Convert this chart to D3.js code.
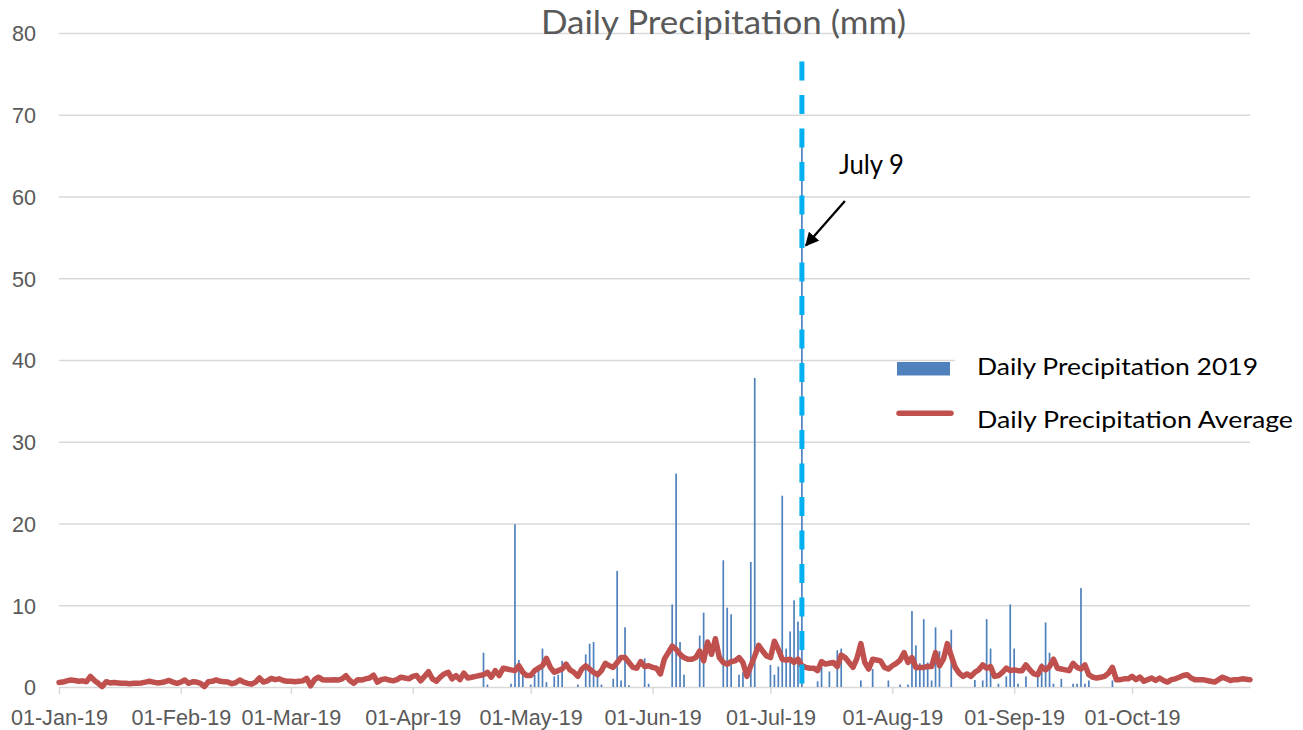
<!DOCTYPE html>
<html>
<head>
<meta charset="utf-8">
<script src="https://cdn.jsdelivr.net/npm/d3@7"></script>
<style>
  html, body { margin: 0; padding: 0; background: #ffffff; }
  svg { display: block; font-family: Lato, "Open Sans", sans-serif; }
</style>
</head>
<body>
<svg id="chart" width="1303" height="730"></svg>
<script>
// ---------------- DATA ----------------
const titleText = "Daily Precipitation (mm)";
const seriesNames = ["Daily Precipitation 2019", "Daily Precipitation Average"];
const startDate = "2019-01-01";
const endDate = "2019-10-31";
const yTicks = [0, 10, 20, 30, 40, 50, 60, 70, 80];
const monthTicks = ["2019-01-01", "2019-02-01", "2019-03-01", "2019-04-01", "2019-05-01",
                    "2019-06-01", "2019-07-01", "2019-08-01", "2019-09-01", "2019-10-01"];

// Daily precipitation 2019 (days with rain only), mm
const rainDates = [
  "2019-04-19","2019-04-20","2019-04-26","2019-04-27","2019-04-28","2019-04-29",
  "2019-05-01","2019-05-02","2019-05-03","2019-05-04","2019-05-05","2019-05-07","2019-05-08","2019-05-09",
  "2019-05-13","2019-05-15","2019-05-16","2019-05-17","2019-05-18","2019-05-19","2019-05-22","2019-05-23",
  "2019-05-24","2019-05-25","2019-05-26","2019-05-30","2019-05-31",
  "2019-06-06","2019-06-07","2019-06-08","2019-06-09","2019-06-13","2019-06-14","2019-06-19","2019-06-20",
  "2019-06-21","2019-06-23","2019-06-24","2019-06-26","2019-06-27",
  "2019-07-01","2019-07-02","2019-07-03","2019-07-04","2019-07-05","2019-07-06","2019-07-07","2019-07-08",
  "2019-07-09","2019-07-13","2019-07-14","2019-07-16","2019-07-18","2019-07-19","2019-07-24","2019-07-27",
  "2019-07-31",
  "2019-08-03","2019-08-05","2019-08-06","2019-08-07","2019-08-08","2019-08-09","2019-08-10","2019-08-11",
  "2019-08-12","2019-08-13","2019-08-16","2019-08-22","2019-08-24","2019-08-25","2019-08-26","2019-08-28",
  "2019-08-30","2019-08-31",
  "2019-09-01","2019-09-02","2019-09-04","2019-09-07","2019-09-08","2019-09-09","2019-09-10","2019-09-11",
  "2019-09-13","2019-09-16","2019-09-17","2019-09-18","2019-09-19","2019-09-20","2019-09-26"
];
const rainMm = [
  4.2, 0.3, 0.4, 19.9, 3.3, 1.5,
  0.3, 1.5, 2.6, 4.7, 0.6, 1.3, 1.5, 3.2,
  0.3, 4.0, 5.3, 5.5, 1.3, 0.3, 1.0, 14.2,
  0.8, 7.3, 0.2, 3.5, 0.4,
  10.1, 26.1, 5.5, 1.5, 6.3, 9.1, 15.5, 9.7,
  8.9, 1.5, 1.8, 15.3, 37.8,
  2.7, 1.5, 2.5, 23.4, 4.7, 6.8, 10.6, 8.0,
  67.5, 0.7, 2.5, 1.9, 4.5, 4.7, 0.8, 2.2,
  0.8,
  0.3, 0.3, 9.3, 5.1, 2.9, 8.3, 3.0, 0.8,
  7.3, 4.4, 7.0, 0.85, 0.8, 8.3, 4.7, 0.4,
  1.3, 10.1,
  4.7, 0.4, 1.3, 1.7, 2.9, 7.9, 4.2, 0.4,
  1.0, 0.4, 0.4, 12.1, 0.4, 0.8, 0.8
];

// Daily precipitation average (long-term), mm, one value per day
const avgJan = [0.55,0.6,0.75,0.85,0.8,0.7,0.75,0.65,1.3,0.8,0.45,0.05,0.65,0.5,0.55,0.5,0.45,0.45,0.4,0.45,0.45,0.5,0.6,0.7,0.6,0.5,0.55,0.65,0.8,0.6,0.45];
const avgFeb = [0.6,0.86,0.45,0.65,0.6,0.45,0.05,0.65,0.7,0.86,0.7,0.65,0.6,0.4,0.55,0.86,0.6,0.45,0.35,0.6,1.1,0.6,0.75,1.05,0.9,1.0,0.8,0.7];
const avgMar = [0.7,0.65,0.7,0.75,1.05,0.15,0.9,1.2,0.9,0.85,0.85,0.9,0.85,1.0,1.38,0.8,0.45,0.9,0.85,1.0,1.1,1.45,0.6,0.9,1.0,0.85,0.75,0.9,1.2,1.1,1.0];
const avgApr = [1.3,1.4,0.75,1.3,1.87,1.0,0.7,1.2,1.6,1.8,1.0,1.4,0.9,1.7,1.1,1.2,1.3,1.4,1.5,1.8,1.2,2.0,1.4,2.3,2.2,2.1,2.0,2.6,1.8,1.4];
const avgMay = [1.4,2.0,2.3,2.6,3.5,2.4,1.8,2.0,2.2,2.8,2.1,1.8,1.3,2.2,2.6,2.2,1.8,1.5,2.0,2.9,2.6,2.4,3.0,3.6,3.6,3.0,2.4,2.3,3.1,2.5,2.6];
const avgJun = [2.4,2.3,1.6,3.4,4.2,5.0,4.6,4.0,3.6,3.4,3.4,3.6,4.4,3.2,5.5,4.0,5.9,3.6,3.0,2.8,3.1,3.2,3.6,3.0,1.3,2.6,3.8,5.1,4.4,3.8];
const avgJul = [3.6,5.6,4.6,3.4,3.3,3.4,3.0,3.4,2.6,2.4,2.3,2.3,2.0,3.1,2.8,2.9,3.0,2.5,3.9,3.6,3.0,2.4,3.5,5.3,3.0,2.2,3.4,3.3,3.2,2.4,2.2];
const avgAug = [2.6,2.9,3.3,4.2,3.0,3.6,2.4,2.4,2.4,2.5,2.5,4.2,2.6,3.4,5.3,3.8,2.4,1.7,1.3,1.6,1.3,1.8,2.1,2.7,2.3,2.5,1.3,1.4,1.8,2.3,2.0];
const avgSep = [2.1,2.0,2.0,2.7,2.1,1.6,1.5,2.5,2.1,2.5,3.4,2.3,2.2,2.1,2.0,2.9,2.4,2.2,2.7,1.5,1.2,1.1,1.2,1.3,1.7,2.4,0.9,0.9,1.0,1.0];
const avgOct = [1.3,0.9,1.2,0.7,0.9,1.1,0.8,1.1,0.8,0.6,0.9,1.0,1.2,1.4,1.5,1.1,0.9,0.9,0.9,0.8,0.7,0.6,0.9,1.2,1.0,0.8,0.9,0.9,1.0,0.95,0.9];

const markerDate = "2019-07-09";
const markerLabel = "July 9";
const markerTopMm = 76.5;

// ---------------- CHART ----------------
const parse = d3.utcParse("%Y-%m-%d");
const avgValues = [].concat(avgJan, avgFeb, avgMar, avgApr, avgMay, avgJun, avgJul, avgAug, avgSep, avgOct);
const d0 = parse(startDate);
const avgData = avgValues.map((v, i) => ({ date: d3.utcDay.offset(d0, i), v }));
const rainData = rainDates.map((d, i) => ({ date: parse(d), v: rainMm[i] }));

const svg = d3.select("#chart");
const plot = { left: 59, right: 1250, top: 33, bottom: 687 };

const x = d3.scaleUtc().domain([parse(startDate), parse(endDate)]).range([plot.left, plot.right]);
const y = d3.scaleLinear().domain([0, 80]).range([plot.bottom, plot.top]);

const gridColor = "#D9D9D9";
const labelColor = "#595959";

// Y axis with gridlines
const yAxis = svg.append("g")
  .attr("transform", `translate(${plot.left},0)`)
  .call(d3.axisLeft(y).tickValues(yTicks).tickSize(-(plot.right - plot.left)).tickPadding(23));
yAxis.select(".domain").remove();
yAxis.selectAll(".tick line").attr("stroke", gridColor).attr("stroke-width", 1.3)
  .filter(d => d === 0).remove();
yAxis.selectAll(".tick text")
  .attr("fill", labelColor).attr("font-size", 21.6).attr("dy", "0.36em");

// X axis
const xAxis = svg.append("g")
  .attr("transform", `translate(0,${plot.bottom})`)
  .call(d3.axisBottom(x).tickValues(monthTicks.map(parse))
    .tickFormat(d3.utcFormat("%d-%b-%y")).tickSize(7).tickSizeOuter(0));
xAxis.select(".domain").attr("stroke", gridColor).attr("stroke-width", 1.5);
xAxis.selectAll(".tick line").attr("stroke", gridColor).attr("stroke-width", 1.5);
xAxis.selectAll(".tick text")
  .attr("fill", labelColor).attr("font-size", 21.6).attr("y", 38).attr("dy", 0);

// Legend background (hides gridline behind legend)
svg.append("rect").attr("x", 955).attr("y", 348).attr("width", 348).attr("height", 88).attr("fill", "#fff");

// Bars
const barW = 1.7;
const barColor = "#4F81BD";
svg.append("g").selectAll("rect").data(rainData).join("rect")
  .attr("x", d => x(d.date) - barW / 2)
  .attr("y", d => y(d.v))
  .attr("width", barW)
  .attr("height", d => y(0) - y(d.v))
  .attr("fill", barColor);

// Average line
const lineColor = "#C0504D";
svg.append("path").datum(avgData)
  .attr("d", d3.line().x(d => x(d.date)).y(d => y(d.v)))
  .attr("fill", "none").attr("stroke", lineColor).attr("stroke-width", 5.5)
  .attr("stroke-linejoin", "round").attr("stroke-linecap", "round");

// Marker dashed line (July 9)
const mx = x(parse(markerDate));
svg.append("line")
  .attr("x1", mx).attr("x2", mx)
  .attr("y1", y(markerTopMm)).attr("y2", y(0))
  .attr("stroke", "#00B0F0").attr("stroke-width", 5)
  .attr("stroke-dasharray", "19,14.5");

// Annotation
svg.append("defs").append("marker")
  .attr("id", "arrowHead").attr("viewBox", "0 0 10 10")
  .attr("refX", 9).attr("refY", 5)
  .attr("markerWidth", 6).attr("markerHeight", 6)
  .attr("markerUnits", "strokeWidth")
  .attr("orient", "auto")
  .append("path").attr("d", "M0,0 L10,5 L0,10 z").attr("fill", "#000");

svg.append("line")
  .attr("x1", mx + 43).attr("y1", y(59.45))
  .attr("x2", mx + 4).attr("y2", y(54.0))
  .attr("stroke", "#000").attr("stroke-width", 2.3)
  .attr("marker-end", "url(#arrowHead)");

svg.append("text")
  .attr("x", mx + 37).attr("y", y(62.75))
  .attr("font-size", 26).attr("fill", "#000")
  .attr("textLength", 65).attr("lengthAdjust", "spacingAndGlyphs")
  .text(markerLabel);

// Title
svg.append("text")
  .attr("x", 723.5).attr("y", 34)
  .attr("text-anchor", "middle")
  .attr("font-size", 33).attr("fill", labelColor)
  .attr("textLength", 365).attr("lengthAdjust", "spacingAndGlyphs")
  .text(titleText);

// Legend
const legend = svg.append("g");
legend.append("rect").attr("x", 897).attr("y", 362).attr("width", 53).attr("height", 13.5).attr("fill", barColor);
legend.append("line").attr("x1", 899).attr("x2", 951).attr("y1", 413.3).attr("y2", 413.3)
  .attr("stroke", lineColor).attr("stroke-width", 5.5).attr("stroke-linecap", "round");
legend.append("text").attr("x", 977).attr("y", 375).attr("font-size", 23.5).attr("fill", "#000")
  .attr("textLength", 281).attr("lengthAdjust", "spacingAndGlyphs").text(seriesNames[0]);
legend.append("text").attr("x", 977).attr("y", 428).attr("font-size", 23.5).attr("fill", "#000")
  .attr("textLength", 316).attr("lengthAdjust", "spacingAndGlyphs").text(seriesNames[1]);
</script>
</body>
</html>
